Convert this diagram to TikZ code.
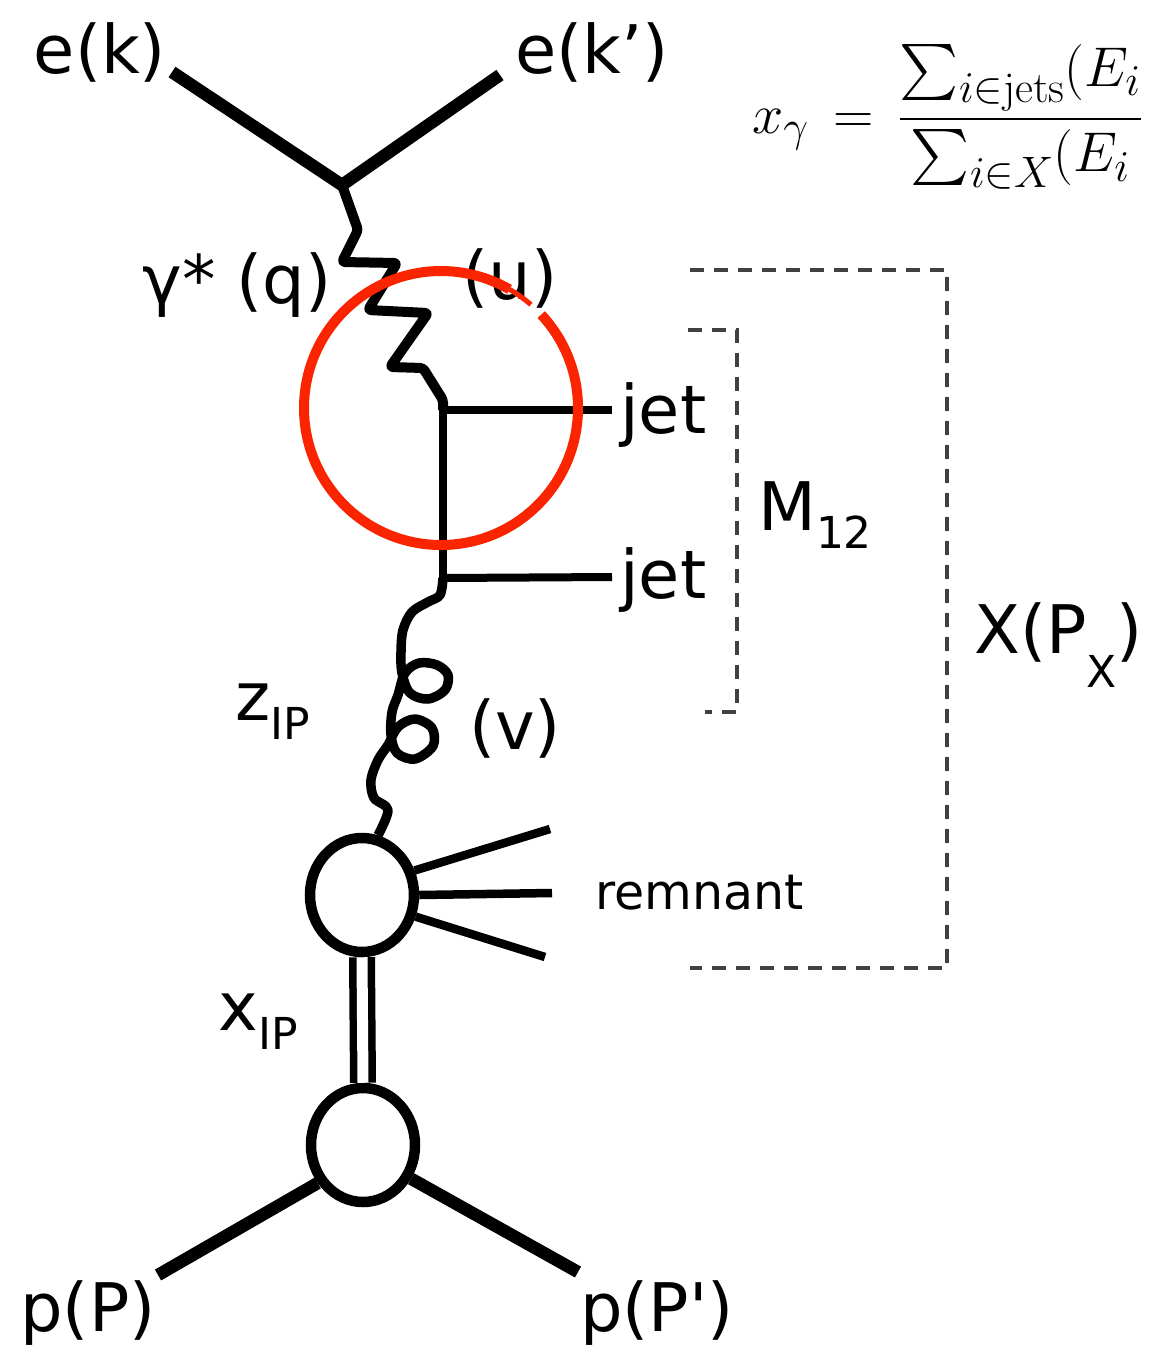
\RequirePackage{fix-cm}
\documentclass[tikz,border=0pt]{standalone}
\usepackage{fontspec}
\DeclareFontShape{OMX}{cmex}{m}{n}{<-> cmex10}{}
\DeclareMathSizes{56}{56}{44}{34}
\newfontfamily\labfont{DejaVu Sans}
\usetikzlibrary{shapes.geometric,calc}
\definecolor{ringred}{RGB}{250,36,0}
\newcommand{\lbsub}[2][-0.28em]{\raisebox{#1}{\fontsize{44}{46}\selectfont #2}}
\begin{document}
\begin{tikzpicture}[x=1pt,y=-1pt,
  lab/.style={font=\labfont\fontsize{67}{70}\selectfont, inner sep=0pt},
  smalllab/.style={font=\labfont\fontsize{49}{50}\selectfont, inner sep=0pt},
  lepton/.style={line width=12.5pt},
  quark/.style={line width=8pt},
  photon/.style={line width=10pt, rounded corners=3pt, line join=round},
  gluon/.style={line width=9.5pt, line join=round},
  blob/.style={ellipse, draw, fill=white, line width=10.5pt, minimum width=104pt, minimum height=114pt, inner sep=0pt},
  frag/.style={line width=8.5pt},
  pomeron/.style={double, double distance=11pt, line width=7.5pt},
  bracket/.style={draw=black!75, line width=3.2pt, dash pattern=on 14pt off 10pt},
  ring/.style={draw=ringred, line width=10pt}
]
\fill[white] (0,0) rectangle (1153,1353);
\useasboundingbox (0,0) rectangle (1153,1353);

% coordinates
\coordinate (vtop) at (342,185);
\coordinate (ekend) at (172,72);
\coordinate (ekpend) at (500,75);
\coordinate (vq1) at (443,410);
\coordinate (vq2) at (443,578);
\coordinate (jet1end) at (612,410);
\coordinate (jet2end) at (612,577);
\coordinate (r1) at (550,829);
\coordinate (r2) at (552,893);
\coordinate (r3) at (545,957);
\coordinate (pend1) at (158,1275);
\coordinate (pend2) at (578,1272);

% labels
\node[lab] (ek) at (100,52) {e(k)};
\node[lab] (ekp) at (592,52) {e(k’)};
\node[lab] (gq) at (237,285) {γ* (q)};
\node[lab] (u) at (510,278) {(u)};
\node[lab, anchor=west] (jet1) at (620,415) {jet};
\node[lab, anchor=west] (jet2) at (620,580) {jet};
\node[lab, anchor=west] (m12) at (758,515) {M\lbsub{12}};
\node[lab, anchor=west] (xpx) at (974,645) {X(P\lbsub[-0.5em]{X})};
\node[lab] (zip) at (273,712) {z\lbsub{IP}};
\node[lab] (v) at (515,728) {(v)};
\node[lab] (xip) at (258,1022) {x\lbsub{IP}};
\node[smalllab, anchor=west] (rem) at (595,893) {remnant};
\node[lab] (pp) at (88,1313) {p(P)};
\node[lab] (ppp) at (657,1313) {p(P')};
\node[anchor=west, inner sep=0pt, font=\fontsize{56}{60}\selectfont] (xg) at (752,117)
  {$\displaystyle x_\gamma \mkern3mu=\mkern3mu \frac{\sum_{i\in\mathrm{jets}}(E_i}{\sum_{i\in X}(E_i}$};

% electron lines
\draw[lepton] (ekend) -- (vtop) -- (ekpend);

% photon
\draw[photon] (vtop) -- (358,230) -- (342,262) -- (397,263) -- (368,310)
  -- (428,313) -- (390,367) -- (423,368) -- (443,400) -- (vq1);

% quark lines and jets
\draw[quark] (vq1) -- (vq2);
\draw[quark] (vq1) -- (jet1end);
\draw[quark] (vq2) -- (jet2end);

% blobs
\node[blob] (b1) at (362,895) {};
\node[blob] (b2) at (363,1145) {};

% gluon
\draw[gluon] plot[smooth, tension=0.55] coordinates {
  (vq2) (440,595) (428,602) (412,612) (403,630) (401,652) (402,673)
  (410,693) (428,699) (445,690) (448,675) (437,665) (419,663) (405,673)
  (398,695) (392,712) (391,735) (397,753) (415,759) (433,746) (432,728)
  (415,719) (398,727) (388,745) (378,760) (371,780) (374,798) (388,810)
  (b1.75)};

% remnant
\draw[frag] (b1.25) -- (r1);
\draw[frag] (b1.east) -- (r2);
\draw[frag] (b1.-22) -- (r3);

% pomeron
\draw[pomeron] (b1.south) -- (b2.north);

% protons
\draw[lepton] (b2.-140) -- (pend1);
\draw[lepton] (b2.-35) -- (pend2);

% brackets
\coordinate (o1) at (690,270);
\coordinate (o2) at (947,270);
\coordinate (o3) at (947,968);
\coordinate (o4) at (690,968);
\draw[bracket] (o1) -- (o2) -- (o3) -- (o4);
\coordinate (i1) at (688,330);
\coordinate (i2) at (737,330);
\coordinate (i3) at (737,712);
\coordinate (i4) at (705,712);
\draw[bracket] (i1) -- (i2) -- (i3) -- (i4);

% red ring
\coordinate (rc) at (441,408);
\draw[ring] ($(rc)+(43:137pt)$) arc[start angle=43, end angle=-300, radius=137pt];
\draw[ring, line width=5pt] ($(rc)+(-300:137pt)$) arc[start angle=-300, end angle=-311, radius=137pt];
\end{tikzpicture}
\end{document}
